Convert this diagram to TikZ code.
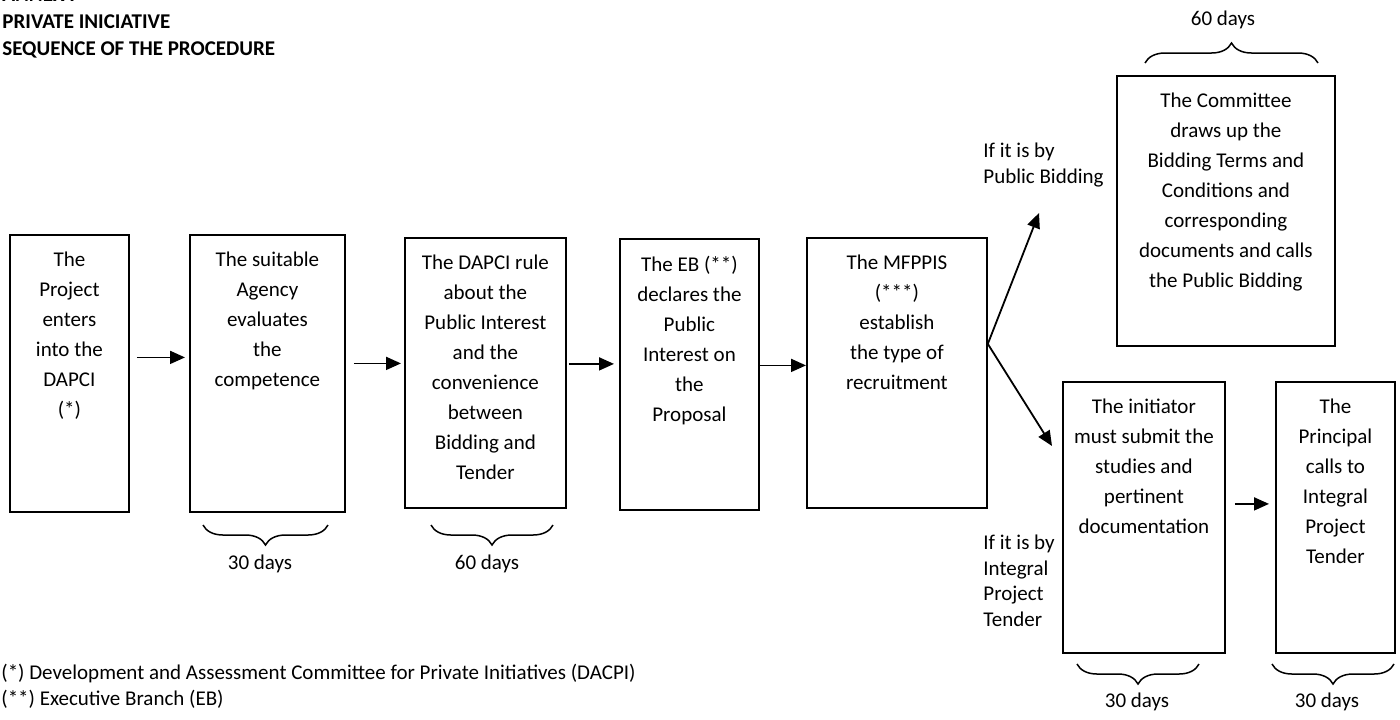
\documentclass[tikz,border=0pt]{standalone}
\usepackage{fontspec}
\setmainfont{Carlito}
\usetikzlibrary{positioning,decorations.pathreplacing,arrows.meta}

\begin{document}
\begin{tikzpicture}[x=0.5pt, y=-0.5pt,
	caja/.style={draw, line width=0.9pt, inner sep=0pt, anchor=north west},
	texto/.style={align=center, inner sep=0pt, font=\fontsize{10.5}{15}\selectfont},
	nota/.style={align=left, inner sep=0pt, anchor=west, font=\fontsize{10.5}{12.75}\selectfont},
	cabecera/.style={align=left, inner sep=0pt, anchor=west, font=\bfseries\fontsize{10.5}{13.5}\selectfont},
	flecha/.style={line width=0.9pt, -{Triangle[length=7.5pt,width=6.5pt]}},
	llave/.style={decorate, decoration={brace, amplitude=10pt}, line width=0.75pt},
	llaveb/.style={llave, decoration={mirror}},
	dias/.style={inner sep=0pt, font=\fontsize{10.5}{12}\selectfont}]
	\useasboundingbox (0,0) rectangle (1400,719);

	% cabecera
	\node[cabecera] (titulo) at (2,23) {ANNEX I\\PRIVATE INICIATIVE\\SEQUENCE OF THE PROCEDURE};

	% pasos
	\node[caja, minimum width=59.5pt, minimum height=138.5pt] (p1) at (9,234) {};
	\node[caja, minimum width=77.5pt, minimum height=138.5pt] (p2) at (189,234) {};
	\node[caja, minimum width=80.5pt, minimum height=135pt] (p3) at (404,237) {};
	\node[caja, minimum width=69.5pt, minimum height=135.5pt] (p4) at (619,238) {};
	\node[caja, minimum width=90pt, minimum height=135pt] (p5) at (806,237) {};
	\node[caja, minimum width=109pt, minimum height=135pt] (p6) at (1116,75) {};
	\node[caja, minimum width=81pt, minimum height=135.5pt] (p7) at (1062,381) {};
	\node[caja, minimum width=59.5pt, minimum height=135.5pt] (p8) at (1275,381) {};

	\node[texto, below=9pt of p1.north] (p1t) {The\\Project\\enters\\into the\\DAPCI\\(*)};
	\node[texto, below=9pt of p2.north] (p2t) {The suitable\\Agency\\evaluates\\the\\competence};
	\node[texto, below=9pt of p3.north] (p3t) {The DAPCI rule\\about the\\Public Interest\\and the\\convenience\\between\\Bidding and\\Tender};
	\node[texto, below=9pt of p4.north] (p4t) {The EB (**)\\declares the\\Public\\Interest on\\the\\Proposal};
	\node[texto, below=9pt of p5.north] (p5t) {The MFPPIS\\(***)\\establish\\the type of\\recruitment};
	\node[texto, below=9pt of p6.north] (p6t) {The Committee\\draws up the\\Bidding Terms and\\Conditions and\\corresponding\\documents and calls\\the Public Bidding};
	\node[texto, below=9pt of p7.north] (p7t) {The initiator\\must submit the\\studies and\\pertinent\\documentation};
	\node[texto, below=9pt of p8.north] (p8t) {The\\Principal\\calls to\\Integral\\Project\\Tender};

	% flechas
	\draw[flecha, shorten <=3.5pt, shorten >=2pt] ([yshift=8pt]p1.east) -- ([yshift=8pt]p1.east -| p2.west);
	\draw[flecha, shorten <=4pt, shorten >=1.5pt] ([yshift=5pt]p2.east) -- ([yshift=5pt]p2.east -| p3.west);
	\draw[flecha, shorten <=1pt, shorten >=2.5pt] ([yshift=4.5pt]p3.east) -- ([yshift=4.5pt]p3.east -| p4.west);
	\draw[flecha] ([yshift=4.5pt]p4.east) -- ([yshift=4.5pt]p4.east -| p5.west);
	\draw[flecha, shorten <=4.5pt, shorten >=3pt] ([yshift=6.75pt]p7.east) -- ([yshift=6.75pt]p7.east -| p8.west);

	\coordinate (licit) at (1039,213);
	\coordinate (integ) at (1052,446);
	\draw[flecha] ([yshift=14.5pt]p5.east) -- (licit);
	\draw[flecha] ([yshift=14.5pt]p5.east) -- (integ);

	\node[nota] (r1) at (983,165) {If it is by\\Public Bidding};
	\node[nota] (r2) at (983,581) {If it is by\\Integral\\Project\\Tender};

	% plazos
	\draw[llaveb] (203,525) -- (328,525);
	\draw[llaveb] (431,525) -- (553,525);
	\draw[llave] (1145,63) -- (1318,63);
	\draw[llaveb] (1077,664) -- (1199,664);
	\draw[llaveb] (1272,664) -- (1394,664);

	\node[dias] (d1) at (260,564) {30 days};
	\node[dias] (d2) at (487,564) {60 days};
	\node[dias] (d3) at (1223,20) {60 days};
	\node[dias] (d4) at (1137,702) {30 days};
	\node[dias] (d5) at (1327,702) {30 days};

	% notas
	\node[nota, font=\fontsize{10.5}{13}\selectfont] (notas) at (1,686) {(*) Development and Assessment Committee for Private Initiatives (DACPI)\\(**) Executive Branch (EB)};
\end{tikzpicture}
\end{document}
